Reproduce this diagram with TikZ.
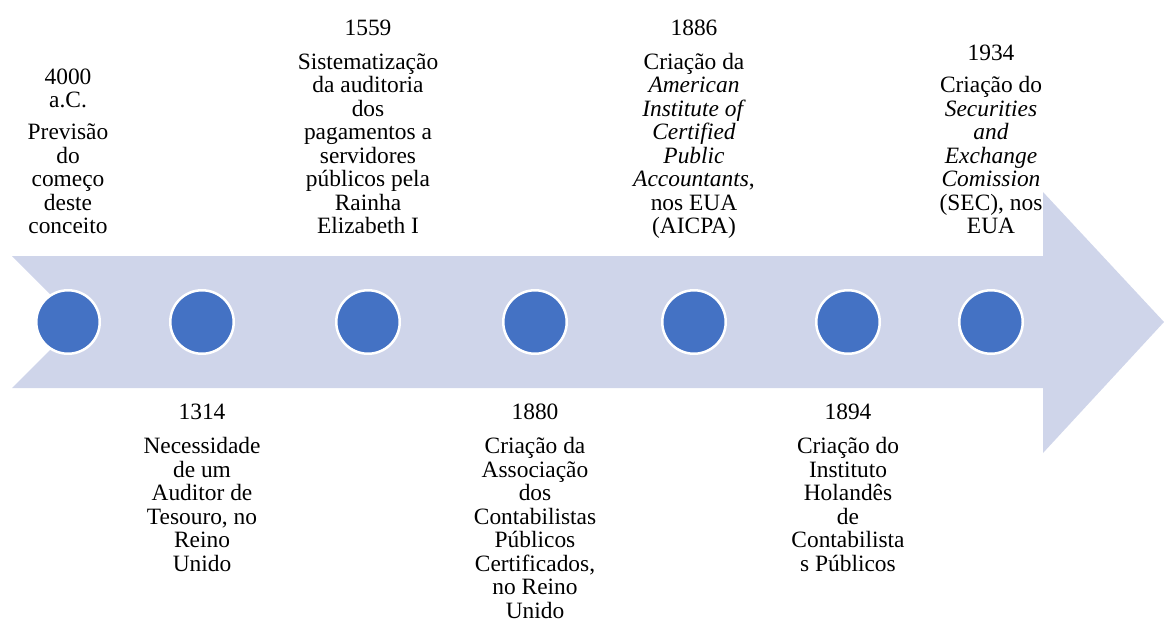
\documentclass[tikz,border=0pt]{standalone}
\usepackage{fontspec}
\setmainfont{Liberation Serif}
\definecolor{arrowfill}{HTML}{CFD5EA}
\definecolor{dotblue}{HTML}{4472C4}
\newcommand\topS{\rule{0pt}{17pt}}
\newcommand\botS{\rule[-6pt]{0pt}{6pt}}
\begin{document}
\begin{tikzpicture}[x=1pt,y=-1pt,
  dot/.style={circle, fill=dotblue, draw=white, line width=2.5pt, minimum size=63.5pt, inner sep=0pt},
  lbl/.style={align=center, inner sep=0pt, font=\fontsize{23.4}{23.5}\selectfont},
  toplbl/.style={lbl, anchor=south},
  botlbl/.style={lbl, anchor=north}]
\useasboundingbox (0,0) rectangle (1164,622);
\fill[arrowfill] (12,256) -- (1043,256) -- (1043,192) -- (1164,322) -- (1043,453)
  -- (1043,388) -- (12,388) -- (78,322) -- cycle;
\node[dot] (d1) at (68,322) {};
\node[dot] (d2) at (202,322) {};
\node[dot] (d3) at (368,322) {};
\node[dot] (d4) at (535,322) {};
\node[dot] (d5) at (694,322) {};
\node[dot] (d6) at (848,322) {};
\node[dot] (d7) at (991,322) {};
\node[toplbl] (l1) at (68,240) {\topS 4000\\a.C.\\[8.5pt]Previsão\\do\\começo\\deste\\conceito\botS};
\node[toplbl] (l3) at (368,240) {\topS 1559\\[10.5pt]Sistematização\\da auditoria\\dos\\pagamentos a\\servidores\\públicos pela\\Rainha\\Elizabeth I\botS};
\node[toplbl] (l5) at (694,240) {\topS 1886\\[10.5pt]Criação da\\\textit{American}\\\textit{Institute of}\\\textit{Certified}\\\textit{Public}\\\textit{Accountants},\\nos EUA\\(AICPA)\botS};
\node[toplbl] (l7) at (991,240) {\topS 1934\\[8.5pt]Criação do\\\textit{Securities}\\\textit{and}\\\textit{Exchange}\\\textit{Comission}\\(SEC), nos\\EUA\botS};
\node[botlbl] (l2) at (202,402.5) {\topS 1314\\[10.5pt]Necessidade\\de um\\Auditor de\\Tesouro, no\\Reino\\Unido\botS};
\node[botlbl] (l4) at (535,402.5) {\topS 1880\\[10.5pt]Criação da\\Associação\\dos\\Contabilistas\\Públicos\\Certificados,\\no Reino\\Unido\botS};
\node[botlbl] (l6) at (848,402.5) {\topS 1894\\[10.5pt]Criação do\\Instituto\\Holandês\\de\\Contabilista\\s Públicos\botS};
\end{tikzpicture}
\end{document}
